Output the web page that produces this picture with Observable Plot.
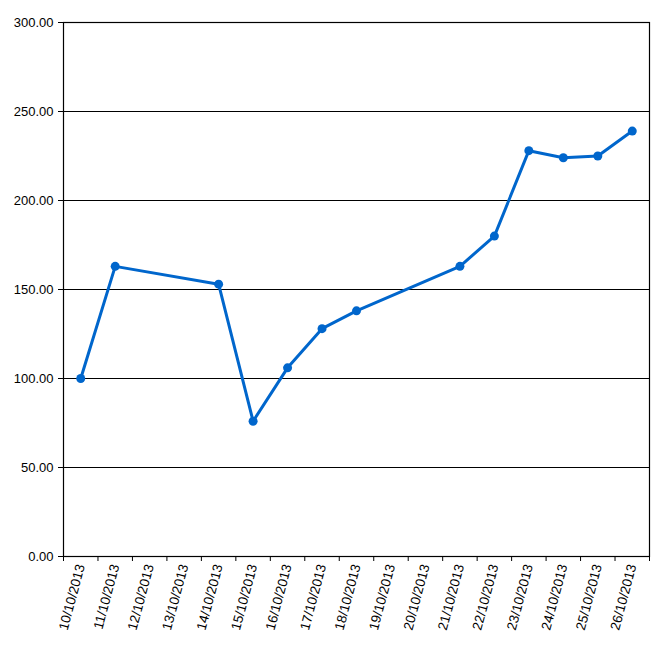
<!DOCTYPE html>
<html>
<head>
<meta charset="utf-8">
<script src="https://cdn.jsdelivr.net/npm/d3@7"></script>
<script src="https://cdn.jsdelivr.net/npm/@observablehq/plot@0.6"></script>
<style>
  body { margin: 0; background: #fff; }
  #chart svg, #chart svg text { font-family: "Liberation Sans", Arial, sans-serif !important; font-size: 13px !important; }
  #chart g[aria-label="x-axis tick label"] text { font-size: 13.5px !important; }
</style>
</head>
<body>
<div id="chart"></div>
<script>
// Días del eje (todas las categorías)
const dias = ["10/10/2013", "11/10/2013", "12/10/2013", "13/10/2013", "14/10/2013", "15/10/2013",
  "16/10/2013", "17/10/2013", "18/10/2013", "19/10/2013", "20/10/2013", "21/10/2013",
  "22/10/2013", "23/10/2013", "24/10/2013", "25/10/2013", "26/10/2013"]

// Serie
const fechas = ["10/10/2013", "11/10/2013", "14/10/2013", "15/10/2013", "16/10/2013", "17/10/2013",
  "18/10/2013", "21/10/2013", "22/10/2013", "23/10/2013", "24/10/2013", "25/10/2013", "26/10/2013"]
const valores = [100, 163, 153, 76, 106, 128, 138, 163, 180, 228, 224, 225, 239]

const yTicks = [0, 50, 100, 150, 200, 250, 300]

const parse = d3.utcParse("%d/%m/%Y")
const fmt = d3.utcFormat("%d/%m/%Y")

const data = fechas.map((f, i) => ({ fecha: parse(f), valor: valores[i] }))
const diasD = dias.map(parse)
// limites entre dias (para las marcas del eje)
const limites = diasD.map(d => d3.utcHour.offset(d, -12))
limites.push(d3.utcHour.offset(diasD[diasD.length - 1], 12))

const azul = "#0066cc"

let chart = Plot.plot({
  width: 662,
  height: 646,
  marginLeft: 63,
  marginRight: 13,
  marginTop: 22,
  marginBottom: 90,
  x: { type: "utc", domain: [limites[0], limites[limites.length - 1]] },
  y: { domain: [0, 300] },
  marks: [
    Plot.ruleY(yTicks, { stroke: "#000", strokeWidth: 1.2 }),
    Plot.frame({ stroke: "#000", strokeWidth: 1.2 }),
    Plot.axisY({ ticks: yTicks, tickFormat: d3.format(".2f"), tickSize: 5, tickPadding: 5, label: null, stroke: "#000", fill: "#000" }),
    Plot.axisX({ ticks: limites, text: null, tickSize: 5, label: null, stroke: "#000" }),
    Plot.axisX({ ticks: diasD, tickFormat: fmt, tickSize: 0, tickPadding: 8, tickRotate: -75, label: null, fill: "#000" }),
    Plot.line(data, { x: "fecha", y: "valor", stroke: azul, strokeWidth: 3 }),
    Plot.dot(data, { x: "fecha", y: "valor", fill: azul, r: 4.5 }),
  ]
})

d3.select('#chart').append(() => chart)
</script>
</body>
</html>
